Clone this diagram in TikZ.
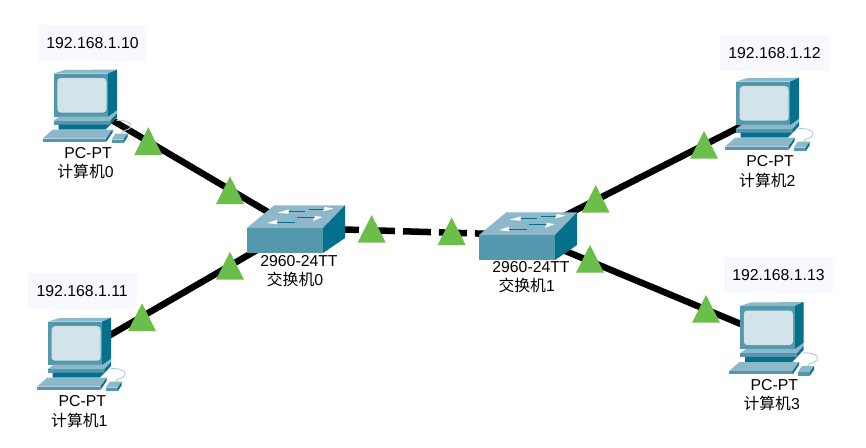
\documentclass[tikz,border=0pt]{standalone}
\usepackage{fontspec}
\setmainfont{Liberation Sans}
\newfontfamily\cjk{Noto Sans CJK SC}
\definecolor{tri}{HTML}{6CBE4B}
\definecolor{tipbg}{HTML}{F8F9FE}
\definecolor{front}{HTML}{5498AE}
\definecolor{sidec}{HTML}{04708C}
\definecolor{topc}{HTML}{8DB8CA}
\definecolor{screenc}{HTML}{D3E3EA}
\definecolor{cablec}{HTML}{A9CBD8}
\tikzset{
  hub/.style={inner sep=0pt,minimum size=1pt},
  lab/.style={inner sep=0pt,font=\fontsize{15.8}{18}\selectfont,text=black},
  tip/.style={inner sep=0pt,fill=tipbg,minimum width=109pt,minimum height=35.7pt,font=\fontsize{15.8}{18}\selectfont,text=black},
  link/.style={line width=6.5pt,black},
  pcicon/.pic={
    \begin{scope}[shift={(-32,-31)}]
      \draw[cablec,line width=0.9pt] (63,47) .. controls (72,46) and (80,50) .. (77,54) .. controls (75,57) and (69,56) .. (68,60);
      % monitor
      \fill[topc] (0,0) -- (11,-3.5) -- (63.5,-4) -- (54.5,0) -- cycle;
      \fill[sidec] (54.5,0) -- (63.5,-4) -- (63.5,37) -- (54.5,44) -- cycle;
      \fill[front] (0,0) rectangle (54.5,43);
      \fill[screenc,rounded corners=3.5pt] (3.8,4.5) rectangle (53,39);
      % base
      \fill[topc] (0,47.3) -- (6,43) -- (55,43) -- (63.5,37) -- (63.5,40) -- (57,47.3) -- cycle;
      \fill[front] (0,47.3) rectangle (57,51);
      \fill[sidec] (57,47.3) -- (63.5,40) -- (63.5,44) -- (57,51) -- cycle;
      \fill[sidec] (5,51) -- (57,51) -- (52,56) -- (5,56) -- cycle;
      % keyboard
      \fill[topc] (-0.7,56) -- (59,56) -- (52.7,65) -- (-10.7,65) -- cycle;
      \fill[front] (-10.7,65) rectangle (52.7,68.3);
      \fill[sidec] (52.7,65) -- (59,56) -- (59,59) -- (52.7,68.3) -- cycle;
      % mouse
      \fill[topc] (62,60) -- (74,60) -- (70,66) -- (58,66) -- cycle;
      \fill[front] (58,66) rectangle (70,69.5);
      \fill[sidec] (70,66) -- (74,60) -- (74,63.5) -- (70,69.5) -- cycle;
    \end{scope}
  },
  swicon/.pic={
    \begin{scope}[shift={(-48,0)}]
      \fill[topc] (0,0) -- (27.3,-22.7) -- (98,-22.7) -- (76,0) -- cycle;
      \fill[sidec] (76,0) -- (98,-22.7) -- (98,10) -- (76,25) -- cycle;
      \fill[front] (0,0) rectangle (76,25);
      \draw[sidec,line width=0.7pt] (41.7,-16.7) -- (57.7,-16.7);
      \fill[white] (30.7,-15.3) -- (41.7,-18.6) -- (41.7,-14.3) -- cycle;
      \draw[sidec,line width=0.7pt] (61.7,-18.3) -- (78,-18.3);
      \fill[white] (86.7,-19.3) -- (78,-21) -- (76,-16.7) -- cycle;
      \draw[sidec,line width=0.7pt] (30,-5.7) -- (47.7,-5.7);
      \fill[white] (20,-5) -- (30,-8.3) -- (30,-3.7) -- cycle;
      \draw[sidec,line width=0.7pt] (50,-11) -- (68,-11);
      \fill[white] (75.7,-11) -- (68,-12) -- (66,-7) -- cycle;
    \end{scope}
  },
  mark tri/.pic={\fill[tri] (0,0) -- (14,-27.7) -- (28,0) -- cycle;}
}
\begin{document}
\begin{tikzpicture}[x=1pt,y=-1pt]
\useasboundingbox (0,0) rectangle (866,447);
\fill[white] (0,0) rectangle (866,447);
% named anchors of the devices
\node[hub] (pc0) at (85.5,104.5) {};
\node[hub] (pc1) at (79.7,352.7) {};
\node[hub] (pc2) at (767.7,112.7) {};
\node[hub] (pc3) at (772,337) {};
\node[hub] (sw0) at (295,228) {};
\node[hub] (sw1) at (527,235) {};
% links
\draw[link] (pc0.center) -- (sw0.center);
\draw[link] (pc1.center) -- (sw0.center);
\draw[link,dash pattern=on 28pt off 8pt] (sw0.center) -- (sw1.center);
\draw[link] (sw1.center) -- (pc2.center);
\draw[link] (sw1.center) -- (pc3.center);
% devices
\pic at (pc0) {pcicon};
\pic at (pc1) {pcicon};
\pic at (pc2) {pcicon};
\pic at (pc3) {pcicon};
\pic at (sw0) {swicon};
\pic at (sw1) {swicon};
% link state markers
\pic at (134.3,155) {mark tri};
\pic at (216,204) {mark tri};
\pic at (216,279.5) {mark tri};
\pic at (128,331) {mark tri};
\pic at (357.7,242.7) {mark tri};
\pic at (437.7,245) {mark tri};
\pic at (581.7,212.7) {mark tri};
\pic at (576,272.7) {mark tri};
\pic at (690,158.7) {mark tri};
\pic at (692,322.7) {mark tri};
% address tips
\node[tip] (ip0) at (92.5,42.8) {192.168.1.10};
\node[tip] (ip1) at (82.2,291) {192.168.1.11};
\node[tip] (ip2) at (774.5,52.8) {192.168.1.12};
\node[tip] (ip3) at (778.5,274.8) {192.168.1.13};
% labels
\node[lab] (t0a) at (88,152.7) {PC-PT};
\node[lab] (t0b) at (85.5,171.7) {{\cjk 计算机}0};
\node[lab] (t1a) at (82.3,401) {PC-PT};
\node[lab] (t1b) at (79.3,420) {{\cjk 计算机}1};
\node[lab] (t2a) at (770,160.7) {PC-PT};
\node[lab] (t2b) at (767.3,180) {{\cjk 计算机}2};
\node[lab] (t3a) at (774.3,385) {PC-PT};
\node[lab] (t3b) at (771.7,403.3) {{\cjk 计算机}3};
\node[lab] (s0a) at (299,261) {2960-24TT};
\node[lab] (s0b) at (295,279.3) {{\cjk 交换机}0};
\node[lab] (s1a) at (531,267.3) {2960-24TT};
\node[lab] (s1b) at (526.7,285.7) {{\cjk 交换机}1};
\end{tikzpicture}
\end{document}
